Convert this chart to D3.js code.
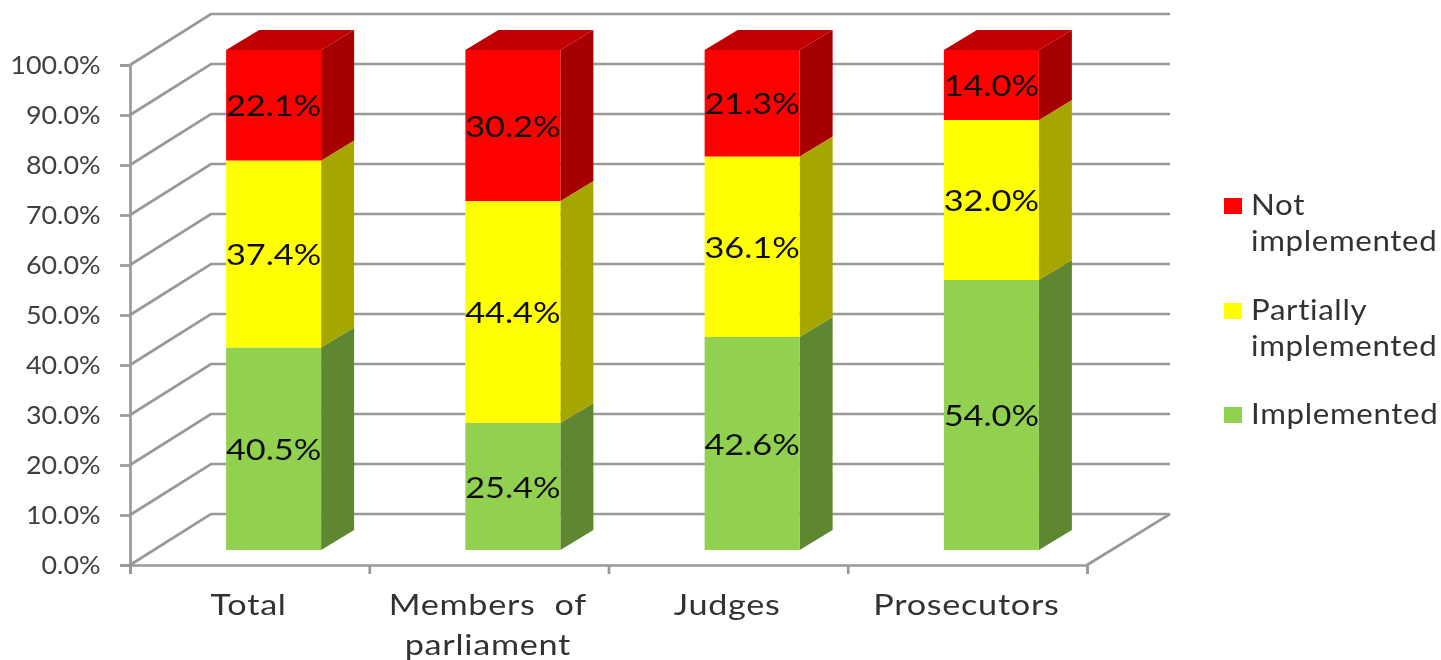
<!DOCTYPE html>
<html>
<head>
<meta charset="utf-8">
<script src="https://cdn.jsdelivr.net/npm/d3@7"></script>
<style>
    html, body { margin: 0; padding: 0; background: #fff; }
    svg { display: block; }
    text { font-family: Lato, "Open Sans", sans-serif; }
    .tick_label { font-size: 25px; fill: #404040; }
    .bar_label { font-size: 29px; fill: #111; }
    .cat_label { font-size: 28.5px; fill: #333; letter-spacing: 0.6px; }
    .legend_label { font-size: 28.5px; fill: #333; letter-spacing: 0.6px; }
    .grid { stroke: #999; stroke-width: 2.7; fill: none; }
</style>
</head>
<body>
<div id="chart"></div>
<script>
const categories = ["Total", "Members of parliament", "Judges", "Prosecutors"]
const implemented = [40.5, 25.4, 42.6, 54.0]
const partially = [37.4, 44.4, 36.1, 32.0]
const notImplemented = [22.1, 30.2, 21.3, 14.0]
const yTicks = [0, 10, 20, 30, 40, 50, 60, 70, 80, 90, 100]

const seriesNames = ["Implemented", "Partially implemented", "Not implemented"]
const seriesValues = [implemented, partially, notImplemented]
const seriesFront = ["#92D050", "#FFFF00", "#FF0000"]
const seriesSide = ["#5F8733", "#A6A600", "#A60000"]
const seriesTop = ["#76A83F", "#C4C400", "#C00000"]

const width = 1441
const height = 660

// the 3d box: front plane of the axes and how far the back wall is shifted
const plot = { left: 130, right: 1087, top: 65, bottom: 565 }
const wall = { dx: 81, dy: -51 }
const barShift = { dx: 24, dy: -15 }
const barDepth = { dx: 33, dy: -20 }
const barWidth = 95

// the original picture is stretched sideways, so the text is too
const stretch = { tick: 1.075, bar: 1.185, cat: 1.2, legend: 1.097 }

const svg = d3.select("#chart")
    .append("svg")
    .attr("width", width)
    .attr("height", height)
    .attr("viewBox", `0 0 ${width} ${height}`)

const defs = svg.append("defs")
defs.append("filter")
    .attr("id", "soft")
    .append("feGaussianBlur")
    .attr("stdDeviation", 0.45)

const chart = svg.append("g").attr("filter", "url(#soft)")

const x = d3.scaleBand()
    .domain(categories)
    .range([plot.left, plot.right])

const y = d3.scaleLinear()
    .domain([0, 100])
    .range([plot.bottom, plot.top])

// side wall + back wall gridlines
const grid = chart.append("g")

grid.selectAll("path")
    .data(yTicks)
    .join("path")
    .attr("class", "grid")
    .attr("d", d => d3.line()([
        [plot.left, y(d)],
        [plot.left + wall.dx, y(d) + wall.dy],
        [plot.right + wall.dx + 2, y(d) + wall.dy]
    ]))

// floor edge on the right
grid.append("path")
    .attr("class", "grid")
    .attr("d", d3.line()([
        [plot.right, plot.bottom],
        [plot.right + wall.dx + 2, plot.bottom + wall.dy]
    ]))

// axes
const yAxis = d3.axisLeft(y)
    .tickValues(yTicks)
    .tickSize(10)
    .tickPadding(18)
    .tickFormat(d => d.toFixed(1) + "%")

const yAxisG = chart.append("g")
    .attr("transform", `translate(${plot.left},0)`)
    .call(yAxis)

const xTickScale = d3.scaleLinear()
    .domain([0, categories.length])
    .range([plot.left, plot.right])

const xAxis = d3.axisBottom(xTickScale)
    .tickValues(d3.range(categories.length + 1))
    .tickSize(9)
    .tickFormat("")

const xAxisG = chart.append("g")
    .attr("transform", `translate(0,${plot.bottom})`)
    .call(xAxis)

chart.selectAll(".domain, .tick line")
    .attr("stroke", "#999")
    .attr("stroke-width", 2.7)

yAxisG.selectAll("text")
    .attr("class", "tick_label")
    .attr("fill", null)
    .attr("font-size", null)
    .attr("font-family", null)
    .attr("x", 0)
    .attr("transform", `translate(-29.5,0) scale(${stretch.tick},1)`)

// category labels, wrapped on two lines where the original is
const catLabels = chart.append("g")
    .selectAll("text")
    .data(categories)
    .join("text")
    .attr("class", "cat_label")
    .attr("text-anchor", "middle")
    .attr("transform", d => `translate(${x(d) + x.bandwidth() / 2 - 1},615) scale(${stretch.cat},1)`)

catLabels.each(function(d) {
    const words = d === "Members of parliament" ? ["Members  of", "parliament"] : [d]
    d3.select(this)
        .attr("xml:space", "preserve")
        .selectAll("tspan")
        .data(words)
        .join("tspan")
        .attr("x", 0)
        .attr("dy", (w, i) => i ? 40 : 0)
        .text(w => w)
})

// bars
const barX = d => x(d) + x.bandwidth() / 2 + barShift.dx - barWidth / 2
const barY = v => y(v) + barShift.dy

const bars = chart.append("g")

categories.forEach((cat, c) => {
    let start = 0
    seriesValues.forEach((values, s) => {
        const end = start + values[c]
        const x0 = barX(cat)
        const x1 = x0 + barWidth
        const yTop = barY(end)
        const yBot = barY(start)

        const g = bars.append("g")

        g.append("path")
            .attr("fill", seriesSide[s])
            .attr("d", d3.line()([
                [x1, yTop],
                [x1 + barDepth.dx, yTop + barDepth.dy],
                [x1 + barDepth.dx, yBot + barDepth.dy],
                [x1, yBot]
            ]) + "Z")

        g.append("rect")
            .attr("fill", seriesFront[s])
            .attr("x", x0)
            .attr("y", yTop)
            .attr("width", barWidth)
            .attr("height", yBot - yTop)

        if (s === seriesValues.length - 1) {
            g.append("path")
                .attr("fill", seriesTop[s])
                .attr("d", d3.line()([
                    [x0, yTop],
                    [x0 + barDepth.dx, yTop + barDepth.dy],
                    [x1 + barDepth.dx, yTop + barDepth.dy],
                    [x1, yTop]
                ]) + "Z")
        }

        start = end
    })
})

// value labels go on top of every bar
categories.forEach((cat, c) => {
    let start = 0
    seriesValues.forEach(values => {
        const end = start + values[c]
        const labelX = barX(cat) + barWidth / 2
        const labelY = barY((start + end) / 2) + 11
        chart.append("text")
            .attr("class", "bar_label")
            .attr("text-anchor", "middle")
            .attr("transform", `translate(${labelX},${labelY}) scale(${stretch.bar},1)`)
            .text(values[c].toFixed(1) + "%")
        start = end
    })
})

// legend
const legendRows = [
    { s: 2, y: 206, lines: ["Not", "implemented"] },
    { s: 1, y: 311, lines: ["Partially", "implemented"] },
    { s: 0, y: 415, lines: ["Implemented"] }
]

const legend = chart.append("g")

legend.selectAll("rect")
    .data(legendRows)
    .join("rect")
    .attr("x", 1224)
    .attr("y", d => d.y - 8)
    .attr("width", 18)
    .attr("height", 16)
    .attr("fill", d => seriesFront[d.s])

legend.selectAll("text")
    .data(legendRows)
    .join("text")
    .attr("class", "legend_label")
    .attr("transform", d => `translate(1251,${d.y + 9}) scale(${stretch.legend},1)`)
    .each(function(d) {
        d3.select(this)
            .selectAll("tspan")
            .data(d.lines)
            .join("tspan")
            .attr("x", 0)
            .attr("dy", (w, i) => i ? 36 : 0)
            .text(w => w)
    })
</script>
</body>
</html>
